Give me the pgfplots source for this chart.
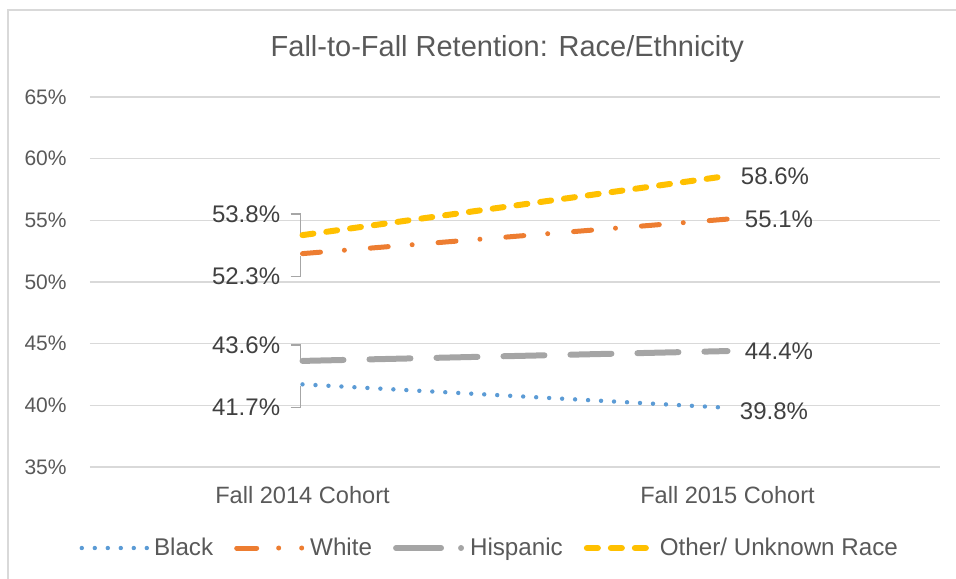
\documentclass[border=0pt]{standalone}
\usepackage{fontspec}
\setmainfont{Liberation Sans}
\usepackage{pgfplots}
\pgfplotsset{compat=1.18}
\definecolor{cBlack}{HTML}{5B9BD5}
\definecolor{cWhite}{HTML}{ED7D31}
\definecolor{cHisp}{HTML}{A5A5A5}
\definecolor{cOther}{HTML}{FFC000}
\definecolor{textc}{HTML}{595959}
\definecolor{labc}{HTML}{404040}
\definecolor{gridc}{HTML}{D9D9D9}
\definecolor{leadc}{HTML}{A6A6A6}
\pgfplotsset{
  whiteleg/.style={legend image code/.code={\draw[##1, dash pattern=on 10pt off 11pt on 0pt off 11.5pt on 0pt off 20pt] (0pt,0pt) -- (33.5pt,0pt);}},
  hispleg/.style={legend image code/.code={\draw[##1, dash pattern=on 22.5pt off 10pt on 0pt off 20pt] (0pt,0pt) -- (33.5pt,0pt);}},
}
\begin{document}
\begin{tikzpicture}[
  lab/.style={font=\fontsize{12}{14}\selectfont, text=labc, inner sep=0pt},
  leader/.style={draw=leadc, line width=0.75pt}]
\begin{axis}[name=ax, scale only axis, width=425pt, height=185pt,
  xmin=-0.5, xmax=1.5, ymin=35, ymax=65, clip=false,
  xtick={0,1}, xticklabels={Fall 2014 Cohort, Fall 2015 Cohort},
  ytick={35,40,45,50,55,60,65},
  yticklabels={35\%,40\%,45\%,50\%,55\%,60\%,65\%},
  axis line style={draw=none}, tick style={draw=none},
  ymajorgrids, grid style={color=gridc, line width=0.75pt},
  yticklabel style={anchor=east, inner sep=0pt, xshift=-11.5pt, font=\fontsize{10.5}{12}\selectfont, text=textc},
  xticklabel style={anchor=north, inner sep=0pt, yshift=-9.5pt, font=\fontsize{11.8}{13}\selectfont, text=textc},
  title={Fall-to-Fall Retention: Race/Ethnicity},
  title style={at={(0.491,1)}, anchor=center, yshift=18pt, inner sep=0pt, font=\fontsize{14.5}{17}\selectfont, text=textc},
  legend columns=4,
  legend cell align=left,
  legend image code/.code={\draw[#1] (0pt,0pt) -- (33pt,0pt);},
  legend style={draw=none, fill=none, at={(0.4715,-0.219)}, anchor=center,
    font=\fontsize{12.1}{14}\selectfont, text=textc,
    /tikz/every even column/.append style={column sep=8.5pt}},
]
\addplot[cBlack, line width=2.2pt, line cap=round, dash pattern=on 0pt off 6.5pt] coordinates {(0,41.7) (1,39.8)};
\addlegendentry{Black}
\addplot[cWhite, line width=2.5pt, line cap=round, dash pattern=on 9pt off 12pt on 0pt off 13pt, whiteleg] coordinates {(0,52.3) (1,55.1)};
\addlegendentry{White}
\addplot[cHisp, line width=3pt, line cap=round, dash pattern=on 20.5pt off 13pt, hispleg] coordinates {(0,43.6) (1,44.4)};
\addlegendentry{Hispanic}
\addplot[cOther, line width=3pt, line cap=round, dash pattern=on 5.5pt off 6.5pt] coordinates {(0,53.8) (1,58.6)};
\addlegendentry{Other/ Unknown Race}

% left labels with leader lines
\node[lab, anchor=east] at ([xshift=-11pt,yshift=10.5pt]axis cs:0,53.8) {53.8\%};
\draw[leader] ([xshift=-6pt,yshift=10.5pt]axis cs:0,53.8) -| ([xshift=-1pt,yshift=1pt]axis cs:0,53.8);
\node[lab, anchor=east] at ([xshift=-11pt,yshift=-11.5pt]axis cs:0,52.3) {52.3\%};
\draw[leader] ([xshift=-6pt,yshift=-11.5pt]axis cs:0,52.3) -| ([xshift=-1pt,yshift=-1pt]axis cs:0,52.3);
\node[lab, anchor=east] at ([xshift=-11pt,yshift=8pt]axis cs:0,43.6) {43.6\%};
\draw[leader] ([xshift=-6pt,yshift=8pt]axis cs:0,43.6) -| ([xshift=-1pt,yshift=1pt]axis cs:0,43.6);
\node[lab, anchor=east] at ([xshift=-11pt,yshift=-11.5pt]axis cs:0,41.7) {41.7\%};
\draw[leader] ([xshift=-6pt,yshift=-11.5pt]axis cs:0,41.7) -| ([xshift=-1pt,yshift=-1pt]axis cs:0,41.7);
% right labels
\node[lab, anchor=west] at ([xshift=6.5pt]axis cs:1,58.6) {58.6\%};
\node[lab, anchor=west] at ([xshift=8.5pt]axis cs:1,55.1) {55.1\%};
\node[lab, anchor=west] at ([xshift=8.5pt]axis cs:1,44.4) {44.4\%};
\node[lab, anchor=west] at ([xshift=6pt,yshift=-1.5pt]axis cs:1,39.8) {39.8\%};
\end{axis}
\draw[gridc, line width=0.75pt] ([xshift=-41pt,yshift=-56pt]ax.south west) -- ([xshift=-41pt,yshift=43.5pt]ax.north west) -- ([xshift=8pt,yshift=43.5pt]ax.north east);
\pgfresetboundingbox
\path ([xshift=-45pt,yshift=-56pt]ax.south west) rectangle ([xshift=8pt,yshift=48.5pt]ax.north east);
\end{tikzpicture}
\end{document}
